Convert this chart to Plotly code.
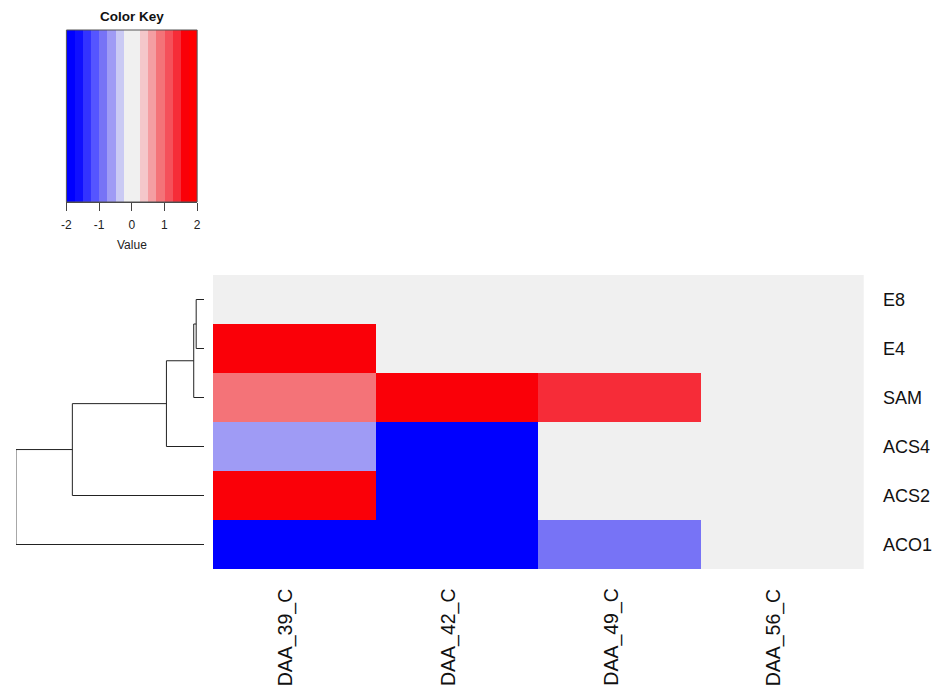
import plotly.graph_objects as go

W, H = 940, 689

# ---- data -------------------------------------------------------------
genes = ["E8", "E4", "SAM", "ACS4", "ACS2", "ACO1"]          # top to bottom
samples = ["DAA_39_C", "DAA_42_C", "DAA_49_C", "DAA_56_C"]
values = [
    [0.0, 0.0, 0.0, 0.0],     # E8
    [1.7, 0.0, 0.0, 0.0],     # E4
    [0.9, 1.7, 1.4, 0.0],     # SAM
    [-0.6, -1.9, 0.0, 0.0],   # ACS4
    [1.7, -1.9, 0.0, 0.0],    # ACS2
    [-1.9, -1.9, -0.9, 0.0],  # ACO1
]

# row dendrogram: merges (left child, right child, height); <=0 = leaf index
merges = [
    (-0, -1, 0.42),   # E8 + E4
    (1, -2, 0.55),    # + SAM
    (2, -3, 2.0),     # + ACS4
    (3, -4, 7.0),     # + ACS2
    (4, -5, 10.0),    # + ACO1
]

# colour key breaks (-2..2 in steps of 0.25) and bin colours
breaks = [-2 + 0.25 * i for i in range(17)]
bin_colors = [
    "#0000FF", "#1010FF", "#3333FF", "#5555FF", "#7773F6", "#9F9BF5",
    "#CACAF4", "#F0F0F0", "#F0F0F0", "#F4C7CA", "#F49EA2", "#F47378",
    "#F5505A", "#F62C38", "#FA0008", "#FF0000",
]

zmin, zmax = breaks[0], breaks[-1]
colorscale = []
for i, c in enumerate(bin_colors):
    colorscale.append([(breaks[i] - zmin) / (zmax - zmin), c])
    colorscale.append([(breaks[i + 1] - zmin) / (zmax - zmin), c])


def px_x(p):
    return p / W


def px_y(p):
    return 1 - p / H


FONT = "Liberation Sans, Arial, sans-serif"

fig = go.Figure()

# ---- main heatmap -----------------------------------------------------
fig.add_trace(go.Heatmap(
    z=values, x=list(range(len(samples))), y=list(range(len(genes))),
    colorscale=colorscale, zmin=zmin, zmax=zmax, showscale=False,
    xaxis="x", yaxis="y", hoverinfo="skip",
))

# ---- row dendrogram ---------------------------------------------------
node_pos = {}
for k in range(len(genes)):
    node_pos[("leaf", k)] = (0.0, float(k))


def child_key(c):
    return ("leaf", -c) if c <= 0 else ("node", c - 1)


dx, dy = [], []
for idx, (a, b, h) in enumerate(merges):
    ha, ya = node_pos[child_key(a)]
    hb, yb = node_pos[child_key(b)]
    dx += [ha, h, h, hb, None]
    dy += [ya, ya, yb, yb, None]
    node_pos[("node", idx)] = (h, (ya + yb) / 2)

fig.add_trace(go.Scatter(
    x=dx, y=dy, mode="lines", line=dict(color="#222222", width=1),
    xaxis="x2", yaxis="y2", hoverinfo="skip", showlegend=False,
))

# ---- colour key -------------------------------------------------------
centers = [(breaks[i] + breaks[i + 1]) / 2 for i in range(16)]
fig.add_trace(go.Heatmap(
    z=[centers], x=centers, y=[0],
    colorscale=colorscale, zmin=zmin, zmax=zmax, showscale=False,
    xaxis="x3", yaxis="y3", hoverinfo="skip",
))

hm_top, hm_bot = 275, 569
key_l, key_r, key_t, key_b = 62, 194, 30, 202

fig.update_layout(
    width=W, height=H, margin=dict(l=0, r=0, t=0, b=0),
    paper_bgcolor="white", plot_bgcolor="white", showlegend=False,
    font=dict(family=FONT, color="#000000"),
    xaxis=dict(domain=[px_x(210), px_x(867)], range=[-0.5, 3.5],
               showticklabels=False, showgrid=False, zeroline=False, ticks=""),
    yaxis=dict(domain=[px_y(hm_bot), px_y(hm_top)], range=[5.5, -0.5],
               showticklabels=False, showgrid=False, zeroline=False, ticks=""),
    xaxis2=dict(domain=[px_x(11), px_x(201)], range=[10.0, 0.0],
                showticklabels=False, showgrid=False, zeroline=False, ticks="",
                anchor="y2"),
    yaxis2=dict(domain=[px_y(hm_bot), px_y(hm_top)], range=[5.5, -0.5],
                showticklabels=False, showgrid=False, zeroline=False, ticks="",
                anchor="x2"),
    xaxis3=dict(domain=[px_x(key_l), px_x(key_r)], range=[-2, 2], anchor="y3",
                tickvals=[-2, -1, 0, 1, 2], ticktext=["-2", "-1", "0", "1", "2"],
                ticks="outside", ticklen=8, tickwidth=1, tickcolor="#444",
                showline=True, linecolor="#444", linewidth=1,
                ticklabelstandoff=4,
                tickfont=dict(size=12, family=FONT, color="#222"),
                showgrid=False, zeroline=False),
    yaxis3=dict(domain=[px_y(key_b), px_y(key_t)], range=[-0.5, 0.5],
                anchor="x3", showticklabels=False, showgrid=False,
                zeroline=False, ticks=""),
)

# border around the key
fig.add_shape(type="rect", xref="paper", yref="paper",
              x0=px_x(key_l), x1=px_x(key_r), y0=px_y(key_b), y1=px_y(key_t),
              line=dict(color="#555555", width=1))

annotations = []
annotations.append(dict(text="<b>Color Key</b>", x=px_x((key_l + key_r) / 2),
                        y=px_y(17), xref="paper", yref="paper",
                        xanchor="center", yanchor="middle", showarrow=False,
                        font=dict(size=13.5, family=FONT, color="#111")))
annotations.append(dict(text="Value", x=px_x((key_l + key_r) / 2),
                        y=px_y(245), xref="paper", yref="paper",
                        xanchor="center", yanchor="middle", showarrow=False,
                        font=dict(size=12, family=FONT, color="#222")))

for i, g in enumerate(genes):
    annotations.append(dict(text=g, x=px_x(884), y=i, xref="paper", yref="y",
                            xanchor="left", yanchor="middle", showarrow=False,
                            font=dict(size=18, family=FONT, color="#111")))

for j, s in enumerate(samples):
    annotations.append(dict(text=s, x=j, y=px_y(586), xref="x", yref="paper",
                            xanchor="center", yanchor="top", textangle=-90,
                            xshift=-9, showarrow=False,
                            font=dict(size=19.5, family=FONT, color="#111")))

fig.update_layout(annotations=annotations)

fig.write_html("out.html")
